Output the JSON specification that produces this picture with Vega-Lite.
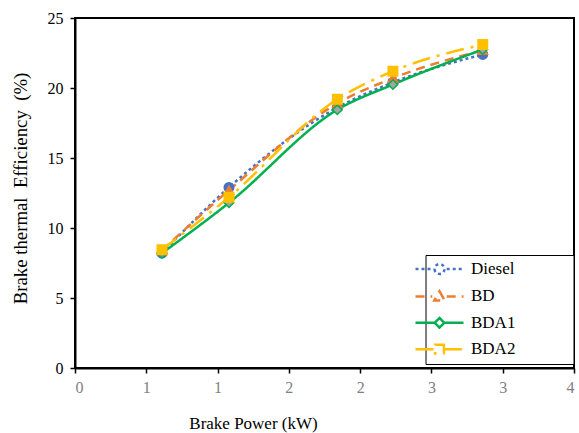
{
  "$schema": "https://vega.github.io/schema/vega-lite/v6.json",
  "width": 499,
  "height": 350,
  "autosize": {"type": "none"},
  "padding": {"left": 75, "top": 18, "right": 5, "bottom": 65},
  "background": "white",
  "config": {
    "font": "Liberation Serif, Times New Roman, serif",
    "view": {"stroke": "#000000", "strokeWidth": 2},
    "axis": {
      "grid": false,
      "domainColor": "#000000",
      "domainWidth": 2,
      "tickColor": "#000000",
      "tickWidth": 1.5,
      "tickSize": 5,
      "labelFont": "Liberation Serif, Times New Roman, serif",
      "labelFontSize": 16,
      "titleFont": "Liberation Serif, Times New Roman, serif",
      "titleFontWeight": "normal",
      "titleColor": "#000000"
    },
    "legend": {
      "labelFont": "Liberation Serif, Times New Roman, serif"
    }
  },
  "data": {
    "values": [
      {"fuel": "Diesel", "bp": 0.61, "bte": 8.2},
      {"fuel": "Diesel", "bp": 1.08, "bte": 12.9},
      {"fuel": "Diesel", "bp": 1.84, "bte": 18.6},
      {"fuel": "Diesel", "bp": 2.23, "bte": 20.4},
      {"fuel": "Diesel", "bp": 2.86, "bte": 22.4},
      {"fuel": "BD", "bp": 0.61, "bte": 8.4},
      {"fuel": "BD", "bp": 1.08, "bte": 12.7},
      {"fuel": "BD", "bp": 1.84, "bte": 18.9},
      {"fuel": "BD", "bp": 2.23, "bte": 20.7},
      {"fuel": "BD", "bp": 2.86, "bte": 22.7},
      {"fuel": "BDA1", "bp": 0.61, "bte": 8.2},
      {"fuel": "BDA1", "bp": 1.08, "bte": 11.8},
      {"fuel": "BDA1", "bp": 1.84, "bte": 18.45},
      {"fuel": "BDA1", "bp": 2.23, "bte": 20.25},
      {"fuel": "BDA1", "bp": 2.86, "bte": 22.75},
      {"fuel": "BDA2", "bp": 0.61, "bte": 8.45},
      {"fuel": "BDA2", "bp": 1.08, "bte": 12.2},
      {"fuel": "BDA2", "bp": 1.84, "bte": 19.2},
      {"fuel": "BDA2", "bp": 2.23, "bte": 21.2},
      {"fuel": "BDA2", "bp": 2.86, "bte": 23.1}
    ]
  },
  "resolve": {
    "scale": {"stroke": "independent", "fill": "independent", "strokeDash": "independent", "shape": "independent"},
    "legend": {"stroke": "independent", "fill": "independent", "strokeDash": "independent", "shape": "independent"}
  },
  "layer": [
    {
      "mark": {"type": "line", "interpolate": "monotone", "strokeWidth": 2.5},
      "encoding": {
        "x": {
          "field": "bp",
          "type": "quantitative",
          "scale": {"domain": [0, 3.5], "nice": false, "zero": true},
          "axis": {
            "title": "Brake Power (kW)",
            "titleFontSize": 17,
            "titleX": 178,
            "titleY": 47,
            "titleBaseline": "top",
            "values": [0, 0.5, 1, 1.5, 2, 2.5, 3, 3.5],
            "format": ".0f",
            "labelColor": "#7f7f7f",
            "labelPadding": 6
          }
        },
        "y": {
          "field": "bte",
          "type": "quantitative",
          "scale": {"domain": [0, 25], "nice": false},
          "axis": {
            "title": "Brake thermal\u00a0 Efficiency\u00a0 (%)",
            "titleFontSize": 18.8,
            "titleX": -45,
            "titleY": 170,
            "values": [0, 5, 10, 15, 20, 25],
            "labelColor": "#000000",
            "labelPadding": 7
          }
        },
        "stroke": {
          "field": "fuel",
          "type": "nominal",
          "legend": null,
          "scale": {
            "domain": ["Diesel", "BD", "BDA1", "BDA2"],
            "range": ["#4472C4", "#ED7D31", "#00B050", "#FFC000"]
          }
        },
        "strokeDash": {
          "field": "fuel",
          "type": "nominal",
          "legend": null,
          "scale": {
            "domain": ["Diesel", "BD", "BDA1", "BDA2"],
            "range": [[3, 3], [9, 6], [1, 0], [18, 7, 3, 7]]
          }
        }
      }
    },
    {
      "mark": {"type": "point", "filled": true, "size": 90, "strokeWidth": 1.5, "opacity": 1},
      "encoding": {
        "x": {"field": "bp", "type": "quantitative"},
        "y": {"field": "bte", "type": "quantitative"},
        "fill": {
          "field": "fuel",
          "type": "nominal",
          "legend": null,
          "scale": {
            "domain": ["Diesel", "BD", "BDA1", "BDA2"],
            "range": ["#4472C4", "#ED7D31", "#A5A5A5", "#FFC000"]
          }
        },
        "stroke": {
          "field": "fuel",
          "type": "nominal",
          "legend": null,
          "scale": {
            "domain": ["Diesel", "BD", "BDA1", "BDA2"],
            "range": ["#4472C4", "#ED7D31", "#00B050", "#FFC000"]
          }
        },
        "shape": {
          "field": "fuel",
          "type": "nominal",
          "legend": null,
          "scale": {
            "domain": ["Diesel", "BD", "BDA1", "BDA2"],
            "range": ["circle", "triangle-up", "diamond", "square"]
          }
        }
      }
    },
    {
      "mark": {"type": "point", "filled": true, "size": 90, "strokeWidth": 2.5, "opacity": 0},
      "encoding": {
        "x": {"field": "bp", "type": "quantitative"},
        "y": {"field": "bte", "type": "quantitative"},
        "fill": {
          "field": "fuel",
          "type": "nominal",
          "scale": {
            "domain": ["Diesel", "BD", "BDA1", "BDA2"],
            "range": ["#4472C4", "#ED7D31", "#A5A5A5", "#FFC000"]
          },
          "legend": {
            "title": null,
            "orient": "none",
            "legendX": 350.5,
            "legendY": 237,
            "padding": 4.5,
            "strokeColor": "#000000",
            "fillColor": "#ffffff",
            "labelFont": "Liberation Serif, Times New Roman, serif",
            "labelFontSize": 17,
            "labelColor": "#000000",
            "labelOffset": 22,
            "rowPadding": 6.4,
            "symbolSize": 256,
            "symbolOpacity": 1,
            "symbolFillColor": "#ffffff",
            "symbolStrokeWidth": 2.5
          }
        },
        "stroke": {
          "field": "fuel",
          "type": "nominal",
          "scale": {
            "domain": ["Diesel", "BD", "BDA1", "BDA2"],
            "range": ["#4472C4", "#ED7D31", "#00B050", "#FFC000"]
          }
        },
        "strokeDash": {
          "field": "fuel",
          "type": "nominal",
          "scale": {
            "domain": ["Diesel", "BD", "BDA1", "BDA2"],
            "range": [[3, 3], [9, 6], [1, 0], [18, 7, 3, 7]]
          }
        },
        "shape": {
          "field": "fuel",
          "type": "nominal",
          "scale": {
            "domain": ["Diesel", "BD", "BDA1", "BDA2"],
            "range": [
              "M-6.5,0L-6.5,0M15.56,0M-3,0H-0.9M0.9,0H3M-0.62,0A0.62,0.62,0,1,0,0.62,0A0.62,0.62,0,1,0,-0.62,0Z",
              "M-6.5,0L-6.5,0M15.56,0M-3,0H-0.9M0.9,0H3M0,-0.65L0.65,0.5L-0.65,0.5Z",
              "M-6.5,0L-6.5,0M15.56,0M-3,0H-0.6M0.6,0H3M0,-0.6L0.6,0L0,0.6L-0.6,0Z",
              "M-6.5,0L-6.5,0M15.56,0M-3,0H-0.55M0.55,0H3M-0.55,-0.55H0.55V0.55H-0.55Z"
            ]
          }
        }
      }
    }
  ]
}
